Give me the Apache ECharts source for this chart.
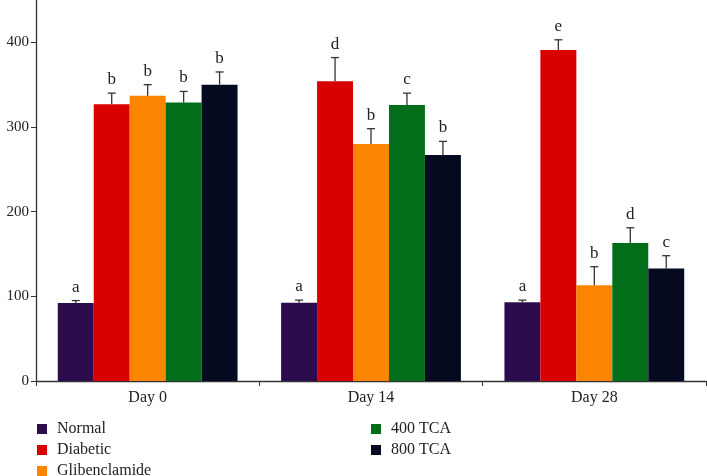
<!DOCTYPE html>
<html>
<head>
<meta charset="utf-8">
<script src="https://cdn.jsdelivr.net/npm/echarts@6/dist/echarts.min.js"></script>
<style>
  html, body { margin: 0; padding: 0; background: #fff; }
  #chart { width: 707px; height: 476px; }
</style>
</head>
<body>
<div id="chart"></div>
<script>
const days = ['Day 0', 'Day 14', 'Day 28']
const groups = ['Normal', 'Diabetic', 'Glibenclamide', '400 TCA', '800 TCA']
const colors = ['#2d0c4e', '#d90000', '#fb8500', '#026e19', '#050a20']

// mean values per group (Day 0, Day 14, Day 28)
const normal = [92, 92.5, 93]
const diabetic = [327, 354, 391]
const glibenclamide = [337, 280, 113]
const tca400 = [329, 326, 163]
const tca800 = [350, 267, 133]

// upper error (SD)
const normalErr = [3, 3, 2.5]
const diabeticErr = [13, 28, 12]
const glibenclamideErr = [13, 18, 22]
const tca400Err = [13, 14, 18]
const tca800Err = [15, 16, 15]

// significance letters
const normalLetters = ['a', 'a', 'a']
const diabeticLetters = ['b', 'd', 'e']
const glibenclamideLetters = ['b', 'b', 'b']
const tca400Letters = ['b', 'c', 'd']
const tca800Letters = ['b', 'b', 'c']

const yTicks = [0, 100, 200, 300, 400]

const means = [normal, diabetic, glibenclamide, tca400, tca800]
const errs = [normalErr, diabeticErr, glibenclamideErr, tca400Err, tca800Err]
const letters = [normalLetters, diabeticLetters, glibenclamideLetters, tca400Letters, tca800Letters]

const GAP = 0.195
const FONT = '"Liberation Serif", "DejaVu Serif", serif'

const barSeries = groups.map((name, i) => ({
  name: name,
  type: 'bar',
  barGap: 0,
  barCategoryGap: (GAP * 100) + '%',
  itemStyle: { color: colors[i] },
  data: means[i]
}))

const errSeries = groups.map((name, i) => ({
  name: name,
  type: 'custom',
  silent: true,
  z: 5,
  data: days.map((d, j) => [j, means[i][j], means[i][j] + errs[i][j], letters[i][j]]),
  renderItem: (params, api) => {
    const bandW = api.size([1, 0])[0]
    const groupW = bandW * (1 - GAP)
    const barW = groupW / groups.length
    const base = api.coord([api.value(0), api.value(1)])
    const top = api.coord([api.value(0), api.value(2)])
    const cx = base[0] - groupW / 2 + barW * (i + 0.5)
    const cap = 4
    const lineStyle = { stroke: '#333', lineWidth: 1.3 }
    return {
      type: 'group',
      children: [
        { type: 'line', shape: { x1: cx, y1: base[1], x2: cx, y2: top[1] }, style: lineStyle },
        { type: 'line', shape: { x1: cx - cap, y1: top[1], x2: cx + cap, y2: top[1] }, style: lineStyle },
        {
          type: 'text',
          style: {
            x: cx, y: top[1] - 5,
            text: letters[i][params.dataIndex],
            textAlign: 'center', textVerticalAlign: 'bottom',
            font: '17px ' + FONT, fill: '#222'
          }
        }
      ]
    }
  }
}))

const legendBase = {
  type: 'plain',
  orient: 'vertical',
  icon: 'rect',
  itemWidth: 10,
  itemHeight: 10,
  itemGap: 5,
  height: 120,
  padding: 0,
  textStyle: { fontFamily: FONT, fontSize: 16, color: '#222', lineHeight: 16, padding: [0, 0, 0, 5] }
}

const option = {
  animation: false,
  backgroundColor: '#fff',
  grid: { left: 36, right: 1, top: 0, bottom: 95 },
  legend: [
    Object.assign({}, legendBase, { left: 37, top: 421, data: groups.slice(0, 3) }),
    Object.assign({}, legendBase, { left: 371, top: 421, data: groups.slice(3) })
  ],
  xAxis: {
    type: 'category',
    data: days,
    axisLine: { lineStyle: { color: '#333', width: 1.3 } },
    axisTick: { show: true, length: 5, lineStyle: { color: '#333' } },
    axisLabel: { fontFamily: FONT, fontSize: 16, color: '#222', margin: 9 }
  },
  yAxis: {
    type: 'value',
    min: 0,
    max: 450,
    interval: 100,
    splitLine: { show: false },
    axisLine: { show: true, lineStyle: { color: '#333', width: 1.3 } },
    axisTick: { show: true, length: 5, lineStyle: { color: '#333' }, customValues: yTicks },
    axisLabel: {
      fontFamily: FONT, fontSize: 15, color: '#222', margin: 7,
      customValues: yTicks,
      formatter: v => (yTicks.indexOf(v) >= 0 ? String(v) : '')
    }
  },
  series: barSeries.concat(errSeries)
}

const chart = echarts.init(document.getElementById('chart'))
chart.setOption(option)
</script>
</body>
</html>
